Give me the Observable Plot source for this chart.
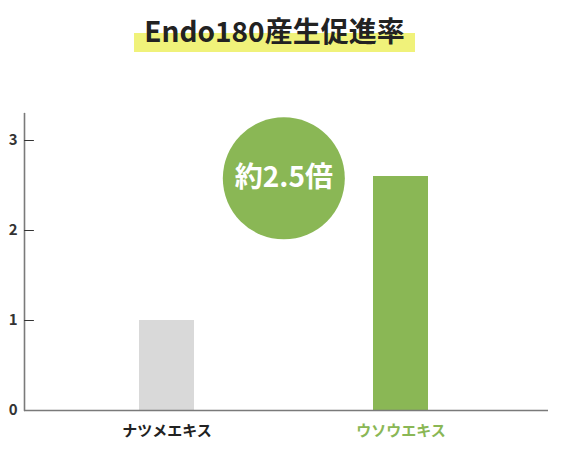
<!DOCTYPE html>
<html>
<head>
<meta charset="utf-8">
<script src="https://cdn.jsdelivr.net/npm/d3@7"></script>
<script src="https://cdn.jsdelivr.net/npm/@observablehq/plot@0.6"></script>
<style>
  html, body { margin: 0; padding: 0; background: #fff; }
  body { width: 566px; height: 455px; overflow: hidden; font-family: "Noto Sans CJK JP", "Noto Sans", sans-serif; }
  #title { height: 58px; padding-top: 12px; padding-right: 17px; display: flex; justify-content: center; align-items: flex-start; }
  #title span {
    display: inline-block; font-size: 28px; font-weight: 700; line-height: 36px; color: #222;
    padding: 0 10px 4px 10px;
    background: linear-gradient(to bottom, transparent 0%, transparent 52%, #f0f27a 52%, #f0f27a 100%);
  }
  #chart svg { display: block; }
</style>
</head>
<body>
<div id="title"><span>Endo180産生促進率</span></div>
<div id="chart"></div>
<script>
const titleText = "Endo180産生促進率";
const categories = ["ナツメエキス", "ウソウエキス"];
const values = [1.0, 2.6];
const barColors = ["#d9d9d9", "#8ab755"];
const labelColors = ["#222222", "#8ab755"];
const yTicks = [0, 1, 2, 3];
const badgeText = "約2.5倍";
const badgeValue = 2.58;

document.querySelector("#title span").textContent = titleText;

const data = categories.map((c, i) => ({category: c, value: values[i], color: barColors[i], labelColor: labelColors[i]}));

const width = 566, height = 385;
const marginLeft = 24, marginRight = 18, marginTop = 43, marginBottom = 45;
const xOpts = {type: "band", domain: categories, paddingInner: 0.764, paddingOuter: 0.5, align: 0.49};
const xs = Plot.scale({x: {...xOpts, range: [marginLeft, width - marginRight]}});
const step = xs.apply(categories[1]) - xs.apply(categories[0]);
const frameHeight = height - marginTop - marginBottom;

const lineShape = {draw(context, l) { context.moveTo(0, 0); context.lineTo(0, -l); }};

const chart = Plot.plot({
  width, height, marginLeft, marginRight, marginTop, marginBottom,
  style: {fontFamily: '"Noto Sans CJK JP", "Noto Sans", sans-serif', background: "#fff"},
  x: {...xOpts, axis: null},
  y: {domain: [0, 3.3], ticks: yTicks, tickFormat: "d"},
  marks: [
    Plot.barY(data, {x: "category", y: "value", fill: "color"}),
    Plot.ruleY([0], {stroke: "#7a7a7a", strokeWidth: 1.6}),
    Plot.axisY({ticks: yTicks, tickFormat: "d", tickSize: 0, tickPadding: 7,
      fill: "#333", fontSize: 15, fontWeight: 700, label: null}),
    Plot.vector([0], {y: d => d, frameAnchor: "left", rotate: 0, length: frameHeight, anchor: "start",
      shape: lineShape, stroke: "#7a7a7a", strokeWidth: 1.6}),
    Plot.vector(yTicks.filter(d => d > 0), {y: d => d, frameAnchor: "left", rotate: 90, length: 9, anchor: "start",
      shape: lineShape, stroke: "#333", strokeWidth: 1}),
    Plot.text(data, {x: "category", y: () => 0, text: "category", fill: "labelColor", dy: 21,
      fontSize: 15, fontWeight: 700, lineAnchor: "middle"}),
    Plot.dot([badgeValue], {x: () => categories[1], y: d => d, dx: -step / 2, r: 61, fill: "#8ab755", stroke: null}),
    Plot.text([badgeValue], {x: () => categories[1], y: d => d, dx: -step / 2, text: () => badgeText,
      fill: "#fff", fontSize: 28, fontWeight: 700, lineAnchor: "middle"})
  ]
});
document.getElementById("chart").appendChild(chart);
</script>
</body>
</html>
